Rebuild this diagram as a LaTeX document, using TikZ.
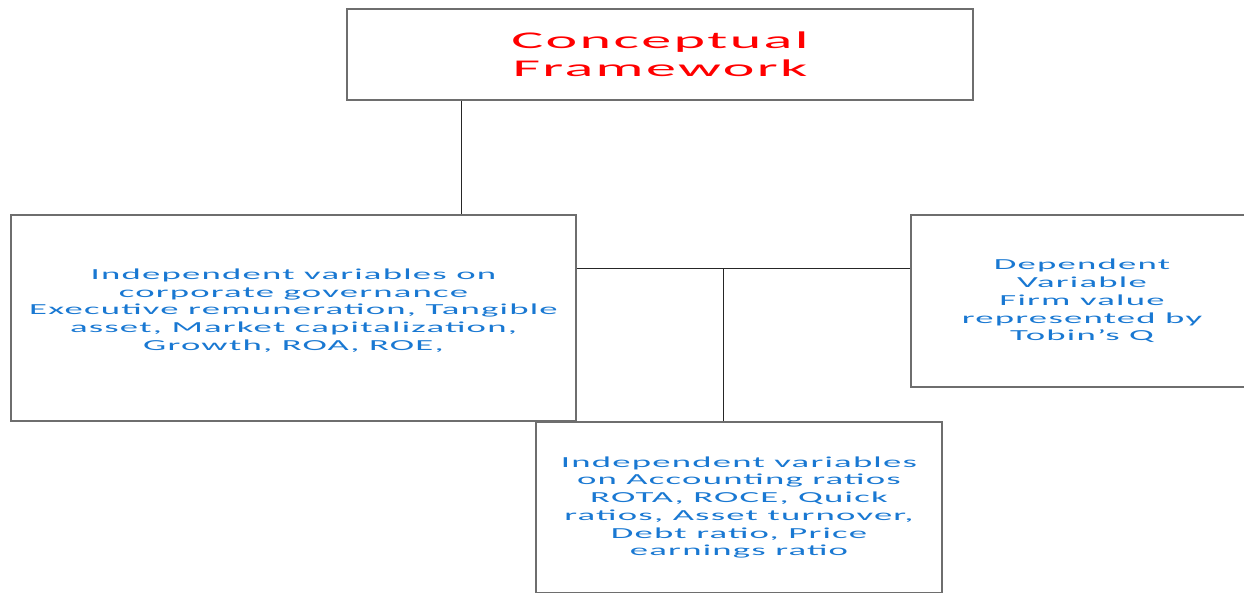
\documentclass[tikz,border=0pt]{standalone}
\usepackage{fontspec}
\setmainfont{Carlito}[FakeStretch=2.4, LetterSpace=8]
\newfontfamily\titlefont{Carlito}[FakeStretch=2.5, LetterSpace=10]
\definecolor{txtblue}{RGB}{25,120,210}
\definecolor{boxgray}{RGB}{110,110,110}
\begin{document}
\begin{tikzpicture}[x=1pt,y=-1pt,
  box/.style={draw=boxgray, line width=1.3pt, inner sep=0pt, align=center},
  bodytxt/.style={text=txtblue, font=\fontsize{15.3}{17.7}\selectfont},
  titletxt/.style={text=red, font=\titlefont\fontsize{24}{28}\selectfont},
  conn/.style={draw=black!85, line width=1pt}]
\useasboundingbox (0,0) rectangle (1244,592);
\clip (0,0) rectangle (1244,592);
\node[box, titletxt, minimum width=626pt, minimum height=91pt] (top) at (660,54.5)
  {Conceptual\\Framework};
\node[box, bodytxt, text depth=17pt, minimum width=565pt, minimum height=206pt] (left) at (293.5,318)
  {Independent variables on\\corporate governance\\Executive remuneration, Tangible\\asset, Market capitalization,\\Growth, ROA, ROE,};
\node[box, bodytxt, minimum width=342pt, minimum height=172pt] (right) at (1082,301)
  {Dependent\\Variable\\Firm value\\represented by\\Tobin’s Q};
\node[box, bodytxt, minimum width=406pt, minimum height=171pt] (bottom) at (739,507.5)
  {Independent variables\\on Accounting ratios\\ROTA, ROCE, Quick\\ratios, Asset turnover,\\Debt ratio, Price\\earnings ratio};
\coordinate (c1) at (461,0);
\coordinate (c2) at (723,268);
\draw[conn] (top.south -| c1) -- (left.north -| c1);
\draw[conn] (left.east |- c2) -- (right.west |- c2);
\draw[conn] (c2) -- (bottom.north -| c2);
\end{tikzpicture}
\end{document}
